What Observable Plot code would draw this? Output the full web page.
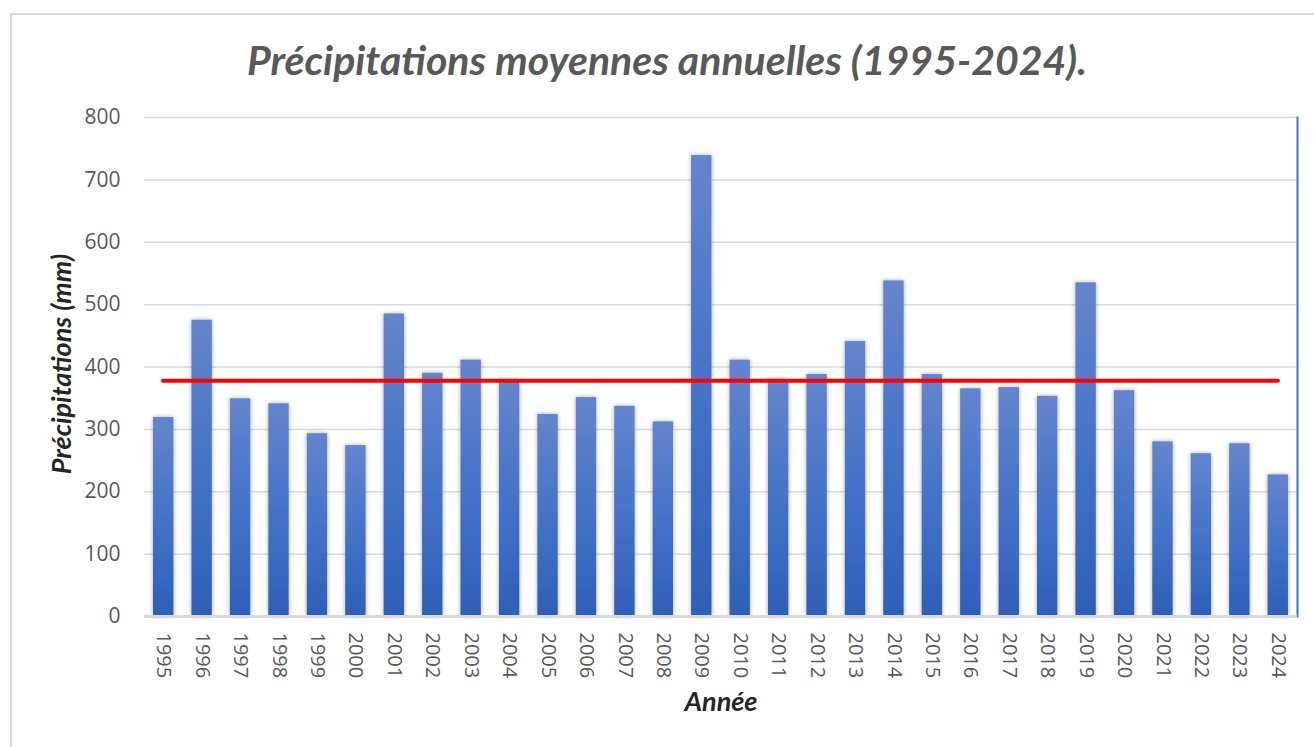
<!DOCTYPE html>
<html><head><meta charset="utf-8">
<script src="https://cdn.jsdelivr.net/npm/d3@7"></script>
<script src="https://cdn.jsdelivr.net/npm/@observablehq/plot@0.6"></script>
<style>
body{margin:0;background:#fff;width:1314px;height:747px;overflow:hidden;position:relative;font-family:"Open Sans",sans-serif;}
#cadre{position:absolute;left:10px;top:13px;width:1320px;height:760px;border:2px solid #d9d9d9;box-sizing:border-box;}
#titre{position:absolute;left:0;width:1334px;top:35px;text-align:center;font-family:Lato,sans-serif;font-weight:bold;font-style:italic;font-size:41px;color:#595959;letter-spacing:0px;}
#chart{position:absolute;left:0;top:90px;}
</style></head>
<body>
<div id="cadre"></div>
<div id="titre">Précipitations moyennes annuelles (1995-2024).</div>
<div id="chart"></div>
<script>
const annees = ["1995","1996","1997","1998","1999","2000","2001","2002","2003","2004","2005","2006","2007","2008","2009","2010","2011","2012","2013","2014","2015","2016","2017","2018","2019","2020","2021","2022","2023","2024"];
const precipitations = [319,475,349,341,293,274,485,390,411,378,324,351,337,312,739,411,380,388,441,538,388,365,367,353,535,362,280,261,277,227];
const moyenne = 378;
const yTicks = [0,100,200,300,400,500,600,700,800];

const data = annees.map((a,i)=>({annee:a, p:precipitations[i]}));

const plot = Plot.plot({
  width:1314, height:657,
  marginTop:27, marginBottom:131, marginLeft:144, marginRight:17,
  style:{fontFamily:"'Open Sans',sans-serif", color:"#595959", background:"transparent"},
  x:{domain:annees, paddingInner:0.47, paddingOuter:0.235, round:false, label:null},
  y:{domain:[0,800], label:null},
  marks:[
    Plot.gridY(yTicks,{stroke:"#d9d9d9", strokeOpacity:1, strokeWidth:1.5}),
    Plot.frame({anchor:"right", stroke:"#4472c4", strokeWidth:2}),
    Plot.barY(data,{x:"annee", y:"p", fill:"url(#degrade)"}),
    Plot.ruleY([0],{stroke:"#d9d9d9", strokeWidth:3}),
    Plot.ruleY([moyenne],{x1:()=>annees[0], x2:()=>annees[annees.length-1], insetLeft:10, insetRight:10, stroke:"#ff0000", strokeWidth:4, strokeLinecap:"round"}),
    Plot.axisY(yTicks,{tickSize:0, tickPadding:24, fontSize:21, fill:"#595959", label:null}),
    Plot.axisX({tickSize:0, tickRotate:90, tickPadding:16, fontSize:20, fill:"#595959", label:null}),
    Plot.text(["Précipitations (mm)"],{frameAnchor:"left", dx:-82, dy:-3, rotate:-90, textAnchor:"middle", fontSize:27, fontWeight:"bold", fontStyle:"italic", fill:"#262626", fontFamily:"Lato,sans-serif"}),
    Plot.text(["Année"],{frameAnchor:"bottom", dy:94, dx:0, fontSize:27, fontWeight:"bold", fontStyle:"italic", fill:"#262626", fontFamily:"Lato,sans-serif"})
  ]
});
const svg = d3.select(plot);
const defs = svg.insert("defs",":first-child");
const g = defs.append("linearGradient").attr("id","degrade").attr("x1",0).attr("y1",0).attr("x2",0).attr("y2",1);
g.append("stop").attr("offset","0%").attr("stop-color","#6585cd");
g.append("stop").attr("offset","50%").attr("stop-color","#4573c8");
g.append("stop").attr("offset","100%").attr("stop-color","#2e5fb8");
const f = defs.append("filter").attr("id","ombre").attr("x","-30%").attr("y","-10%").attr("width","160%").attr("height","120%");
f.append("feDropShadow").attr("dx",0).attr("dy",0).attr("stdDeviation",2).attr("flood-color","#000").attr("flood-opacity",0.35);
svg.selectAll("rect").filter(function(){return this.getAttribute("fill")==="url(#degrade)" || (this.parentNode && this.parentNode.getAttribute("fill")==="url(#degrade)");}).attr("filter","url(#ombre)");
document.getElementById("chart").appendChild(plot);
</script>
</body></html>
